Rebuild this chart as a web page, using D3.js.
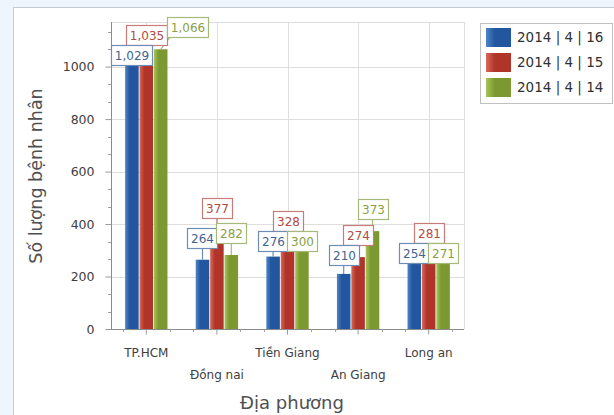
<!DOCTYPE html>
<html><head><meta charset="utf-8">
<script src="https://cdn.jsdelivr.net/npm/d3@7/dist/d3.min.js"></script>
<style>
html,body{margin:0;padding:0;background:#eef5fc;}
svg{display:block;font-family:"DejaVu Sans",sans-serif;}
</style></head>
<body><svg id="c" width="614" height="415"></svg>
<script>
const categories = ["TP.HCM", "Đồng nai", "Tiền Giang", "An Giang", "Long an"];
const seriesNames = ["2014 | 4 | 16", "2014 | 4 | 15", "2014 | 4 | 14"];
const values16 = [1029, 264, 276, 210, 254];
const values15 = [1035, 377, 328, 274, 281];
const values14 = [1066, 282, 300, 373, 271];
const yTicks = [0, 200, 400, 600, 800, 1000];
const yTitle = "Số lượng bệnh nhân";
const xTitle = "Địa phương";

const seriesValues = [values16, values15, values14];
const colors = [
  {dark:"#22569e", light:"#4f86c8", border:"#6e8db5", text:"#3f6393"},
  {dark:"#b0342a", light:"#d96a58", border:"#c97b78", text:"#b24a46"},
  {dark:"#7b9930", light:"#a8c45a", border:"#a7b97a", text:"#89a044"}
];

const svg = d3.select("#c");
const defs = svg.append("defs");
colors.forEach((c,i)=>{
  const g = defs.append("linearGradient").attr("id","g"+i).attr("x1","0").attr("x2","1").attr("y1","0").attr("y2","0");
  g.append("stop").attr("offset","0%").attr("stop-color",c.light);
  g.append("stop").attr("offset","35%").attr("stop-color",c.dark);
  g.append("stop").attr("offset","100%").attr("stop-color",c.dark);
});

// panel
svg.append("rect").attr("x",13.5).attr("y",7.5).attr("width",700).attr("height",500)
  .attr("fill","#ffffff").attr("stroke","#c3cbd4");

const L=111, R=464, T=22, B=329;
const x = d3.scaleBand().domain(categories).range([L,R]).paddingInner(0.4).paddingOuter(0.2);
const xs = d3.scaleBand().domain(d3.range(seriesNames.length)).range([0,x.bandwidth()]).paddingInner(0.06);
const y = d3.scaleLinear().domain([0,1170]).range([B,T]);
const step = x.step();
const cx = c => x(c) + x.bandwidth()/2;

// gridlines
const grid = svg.append("g").attr("stroke","#dedede").attr("stroke-width",1);
yTicks.filter(v=>v>0).forEach(v=>grid.append("line").attr("x1",L).attr("x2",R).attr("y1",Math.round(y(v))+0.5).attr("y2",Math.round(y(v))+0.5));
categories.forEach(c=>grid.append("line").attr("x1",Math.round(cx(c))+0.5).attr("x2",Math.round(cx(c))+0.5).attr("y1",T).attr("y2",B));
grid.append("line").attr("x1",L).attr("x2",R).attr("y1",T+0.5).attr("y2",T+0.5);
grid.append("line").attr("x1",R+0.5).attr("x2",R+0.5).attr("y1",T).attr("y2",B);

// y axis
const yAxis = svg.append("g").attr("transform",`translate(${L+0.5},0)`)
  .call(d3.axisLeft(y).tickValues(yTicks).tickSize(6).tickPadding(11).tickFormat(d3.format("d")));
yAxis.select(".domain").attr("stroke","#8a8a8a").attr("d",`M0,${T}V${B}`);
yAxis.selectAll(".tick line").attr("stroke","#9a9a9a");
yAxis.selectAll(".tick text").attr("fill","#404040").attr("font-size",12.5).attr("font-family","DejaVu Sans, sans-serif");
const minorY = [];
for (let i=0;i<yTicks.length;i++){ for (let k=1;k<3;k++){ const v=yTicks[i]+k*200/3; if (y(v)>T) minorY.push(v);} }
svg.append("g").selectAll("line").data(minorY).join("line")
  .attr("x1",L-3).attr("x2",L).attr("y1",d=>Math.round(y(d))+0.5).attr("y2",d=>Math.round(y(d))+0.5).attr("stroke","#a0a0a0");

// x axis
const xAxis = svg.append("g").attr("transform",`translate(0,${B+0.5})`)
  .call(d3.axisBottom(x).tickSize(5).tickFormat(""));
xAxis.select(".domain").attr("stroke","#8a8a8a").attr("d",`M${L},0H${R}`);
xAxis.selectAll(".tick line").attr("stroke","#9a9a9a");
const minorX=[];
categories.forEach((c,i)=>{ [-1/3,1/3].forEach(f=>minorX.push(cx(c)+f*step)); });
svg.append("g").selectAll("line").data(minorX.filter(v=>v>L&&v<R)).join("line")
  .attr("x1",d=>Math.round(d)+0.5).attr("x2",d=>Math.round(d)+0.5).attr("y1",B).attr("y2",B+3).attr("stroke","#a0a0a0");
svg.append("g").selectAll("text").data(categories).join("text")
  .attr("x",d=>cx(d)).attr("y",(d,i)=> i%2===0 ? 357 : 379)
  .attr("text-anchor","middle").attr("font-size",12).attr("fill","#404040").text(d=>d);

// titles
svg.append("text").attr("x",292).attr("y",409).attr("text-anchor","middle").attr("font-size",18).attr("fill","#505050").text(xTitle);
svg.append("text").attr("transform","translate(42,176) rotate(-90)").attr("text-anchor","middle").attr("font-size",17.5).attr("fill","#505050").text(yTitle);

// bars
const barsG = svg.append("g");
seriesValues.forEach((vals,si)=>{
  barsG.append("g").selectAll("rect").data(vals).join("rect")
    .attr("x",(d,i)=>x(categories[i])+xs(si)).attr("width",xs.bandwidth())
    .attr("y",d=>y(d)).attr("height",d=>B-y(d)).attr("fill",`url(#g${si})`);
});

// labels with simple overlap resolution
const fmt = d3.format(",");
const lblG = svg.append("g");
const measure = lblG.append("text").attr("font-size",12).attr("visibility","hidden");
const placed = [];
const H = 20, GAP = 12;
function collide(b){ return placed.find(p => Math.min(b.x+b.w,p.x+p.w)-Math.max(b.x,p.x) > 4 && Math.min(b.y+H,p.y+H)-Math.max(b.y,p.y) > 1); }
const order = [1,0,2];
const boxes = [];
categories.forEach((c,ci)=>{
  order.forEach(si=>{
    const v = seriesValues[si][ci];
    const txt = fmt(v);
    measure.text(txt);
    const tw = measure.node().getComputedTextLength();
    const w = Math.round(tw + 7);
    const bx = x(c)+xs(si)+xs.bandwidth()/2, by = y(v);
    const base = {x: bx - w/2, y: by - GAP - H, w};
    let b = Object.assign({}, base), p;
    if (collide(b)) {
      const down = Object.assign({}, base);
      while ((p = collide(down))) down.y = p.y + H;
      const dir = si===0 ? -1 : 1;
      let side = null;
      if (si !== 1) {
        side = Object.assign({}, base);
        let n=0;
        while ((p = collide(side)) && n<10) { side.x = dir>0 ? p.x+p.w : p.x - side.w; n++; }
      }
      const dd = down.y - base.y;
      const ds = side ? Math.abs(side.x - base.x) : Infinity;
      b = ds + 6 < dd ? side : down;
    }
    placed.push(b);
    boxes.push({b, bx, by, si, txt});
  });
});
measure.remove();
boxes.forEach(o=>{
  const c = colors[o.si];
  const bottom = o.b.y + H;
  if (bottom < o.by) {
    const lx = Math.max(o.b.x+3, Math.min(o.b.x+o.b.w-3, o.bx));
    lblG.append("line").attr("x1",o.bx).attr("y1",o.by).attr("x2",lx).attr("y2",bottom).attr("stroke",c.border).attr("stroke-width",1.2);
  }
});
boxes.forEach(o=>{
  const c = colors[o.si];
  lblG.append("rect").attr("x",Math.round(o.b.x)+0.5).attr("y",Math.round(o.b.y)+0.5).attr("width",o.b.w).attr("height",H)
    .attr("fill","#ffffff").attr("stroke",c.border).attr("stroke-width",1.2);
  lblG.append("text").attr("x",Math.round(o.b.x)+0.5+o.b.w/2).attr("y",Math.round(o.b.y)+H/2+5)
    .attr("text-anchor","middle").attr("font-size",12).attr("fill",c.text).text(o.txt);
});

// legend
const lg = svg.append("g");
lg.append("rect").attr("x",480.5).attr("y",23.5).attr("width",132).attr("height",80).attr("fill","#ffffff").attr("stroke","#c0c0c0");
seriesNames.forEach((n,i)=>{
  lg.append("rect").attr("x",486).attr("y",28+i*25).attr("width",25).attr("height",19).attr("fill",`url(#g${i})`);
  lg.append("text").attr("x",517).attr("y",42+i*25).attr("font-size",13.5).attr("fill","#303030").text(n);
});
</script></body></html>
